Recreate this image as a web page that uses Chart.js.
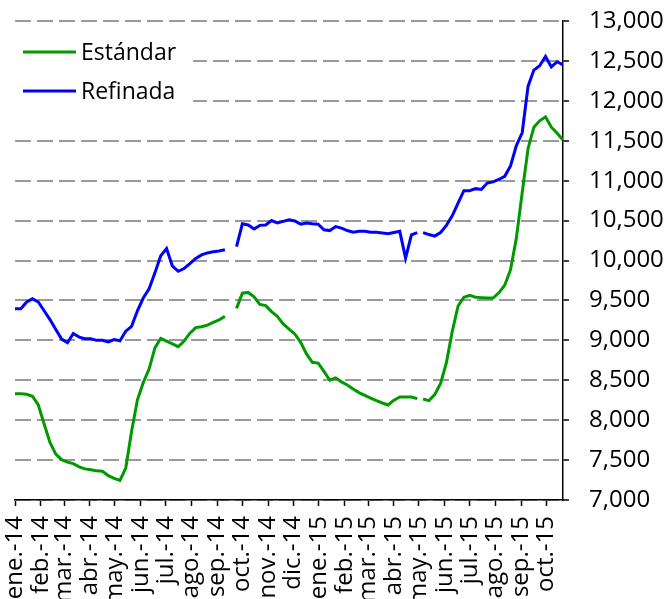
<!DOCTYPE html>
<html>
<head>
<meta charset="utf-8">
<script src="https://cdn.jsdelivr.net/npm/chart.js@4/dist/chart.umd.min.js"></script>
<style>
  html, body { margin: 0; padding: 0; background: #fff; }
  #wrap { width: 665px; height: 599px; }
</style>
</head>
<body>
<div id="wrap"><canvas id="priceChart" width="665" height="599"></canvas></div>
<script>
// Weekly prices, first week = 1 Jan 2014 (null = no reading)
const estandar = [
  8330, 8330, 8325, 8300, 8190, 7950, 7720, 7575, 7505, 7475,
  7455, 7415, 7390, 7380, 7365, 7360, 7305, 7270, 7245, 7400,
  7860, 8255, 8470, 8640, 8905, 9025, 8990, 8955, 8920, 8990,
  9090, 9160, 9170, 9190, 9225, 9255, 9300, null, 9400, 9590,
  9600, 9545, 9450, 9435, 9360, 9300, 9205, 9140, 9080, 8975,
  8830, 8725, 8715, 8610, 8500, 8530, 8480, 8440, 8390, 8345,
  8310, 8275, 8245, 8215, 8190, 8250, 8290, 8290, 8290, 8270,
  8265, 8245, 8320, 8460, 8720, 9110, 9430, 9540, 9565, 9540,
  9535, 9530, 9530, 9595, 9690, 9885, 10280, 10850, 11400, 11670,
  11750, 11800, 11670, 11595, 11510
];
const refinada = [
  9395, 9395, 9480, 9520, 9480, 9370, 9260, 9135, 9015, 8970,
  9085, 9040, 9020, 9020, 9000, 9000, 8980, 9010, 8995, 9115,
  9175, 9370, 9530, 9645, 9845, 10060, 10150, 9930, 9865, 9900,
  9960, 10025, 10070, 10095, 10110, 10120, 10135, null, 10175, 10460,
  10445, 10395, 10440, 10445, 10500, 10470, 10490, 10510, 10495, 10455,
  10470, 10460, 10455, 10385, 10375, 10425, 10405, 10375, 10355, 10365,
  10365, 10355, 10355, 10345, 10335, 10350, 10365, 10030, 10320, 10350,
  10350, 10325, 10305, 10350, 10440, 10560, 10720, 10875, 10875, 10900,
  10890, 10970, 10985, 11015, 11055, 11185, 11440, 11600, 12180, 12385,
  12440, 12555, 12425, 12490, 12450
];
// week after which the series is interrupted (missing reading in may.-15)
const breakAfter = [69];

const monthLabels = [
  'ene.-14', 'feb.-14', 'mar.-14', 'abr.-14', 'may.-14', 'jun.-14',
  'jul.-14', 'ago.-14', 'sep.-14', 'oct.-14', 'nov.-14', 'dic.-14',
  'ene.-15', 'feb.-15', 'mar.-15', 'abr.-15', 'may.-15', 'jun.-15',
  'jul.-15', 'ago.-15', 'sep.-15', 'oct.-15'
];
const yTicks = [7000, 7500, 8000, 8500, 9000, 9500, 10000, 10500, 11000, 11500, 12000, 12500, 13000];

// days since 1 Jan 2014 for each month start
const DAY = 86400000;
const origin = Date.UTC(2014, 0, 1);
const monthDays = monthLabels.map((_, i) => (Date.UTC(2014, i, 1) - origin) / DAY);

const toPoints = arr => arr.map((v, i) => ({ x: i * 7, y: v }));
const lastDay = (estandar.length - 1) * 7;

const FAMILY = '"Open Sans", "Liberation Sans", sans-serif';
const TICK_FONT = { family: FAMILY, size: 24 };
const LEGEND_SIZE = 23;

function lineDataset(label, values, color) {
    return {
        label: label,
        data: toPoints(values),
        borderColor: color,
        borderWidth: 3,
        pointRadius: 0,
        tension: 0,
        spanGaps: false,
        segment: {
            borderColor: ctx => breakAfter.includes(ctx.p0DataIndex) ? 'rgba(0,0,0,0)' : color
        }
    };
}

// Legend box drawn inside the plot, over the grid
const insideLegend = {
    id: 'insideLegend',
    afterDatasetsDraw(chart) {
        const { ctx, chartArea } = chart;
        ctx.save();
        ctx.fillStyle = '#ffffff';
        ctx.fillRect(chartArea.left, 30, 178, 86);
        ctx.font = LEGEND_SIZE + 'px ' + FAMILY;
        ctx.textBaseline = 'alphabetic';
        chart.data.datasets.forEach((ds, i) => {
            const y = 52 + i * 39;
            ctx.strokeStyle = ds.borderColor;
            ctx.lineWidth = 3;
            ctx.beginPath();
            ctx.moveTo(23, y);
            ctx.lineTo(76, y);
            ctx.stroke();
            ctx.fillStyle = '#000';
            ctx.fillText(ds.label, 81, y + 8);
        });
        ctx.restore();
    }
};

const ctx = document.getElementById('priceChart').getContext('2d');
const chart = new Chart(ctx, {
    type: 'line',
    data: {
        datasets: [
            lineDataset('Estándar', estandar, '#009900'),
            lineDataset('Refinada', refinada, '#0000ff')
        ]
    },
    options: {
        responsive: false,
        animation: false,
        devicePixelRatio: 1,
        layout: { padding: { left: 15, top: 21, right: 0, bottom: 0 } },
        plugins: {
            legend: { display: false },
            tooltip: { enabled: false }
        },
        scales: {
            x: {
                type: 'linear',
                min: 0,
                max: lastDay,
                offset: false,
                afterBuildTicks: scale => {
                    scale.ticks = monthDays.map(d => ({ value: d }));
                },
                afterFit: scale => {
                    scale.height = 99;
                    scale.paddingLeft = 0;
                    scale.paddingRight = 0;
                },
                ticks: {
                    autoSkip: false,
                    maxRotation: 90,
                    minRotation: 90,
                    padding: 10,
                    color: '#000',
                    font: TICK_FONT,
                    callback: (value, index) => monthLabels[index]
                },
                grid: {
                    display: true,
                    drawOnChartArea: false,
                    tickLength: 6,
                    tickColor: '#000',
                    tickWidth: 1.5
                },
                border: { display: true, color: '#000', width: 1.5 }
            },
            y: {
                position: 'right',
                min: 7000,
                max: 13000,
                afterBuildTicks: scale => {
                    scale.ticks = yTicks.map(v => ({ value: v }));
                },
                afterFit: scale => {
                    scale.width = 102;
                    scale.paddingTop = 0;
                    scale.paddingBottom = 0;
                },
                ticks: {
                    padding: 20,
                    color: '#000',
                    font: TICK_FONT,
                    callback: value => value.toLocaleString('en-US')
                },
                grid: {
                    color: '#9a9a9a',
                    lineWidth: 2,
                    tickLength: 6,
                    tickColor: '#000',
                    tickWidth: 1.5,
                    tickBorderDash: []
                },
                border: { display: true, color: '#000', width: 1.5, dash: [16, 6] }
            }
        }
    },
    plugins: [insideLegend]
});
</script>
</body>
</html>
